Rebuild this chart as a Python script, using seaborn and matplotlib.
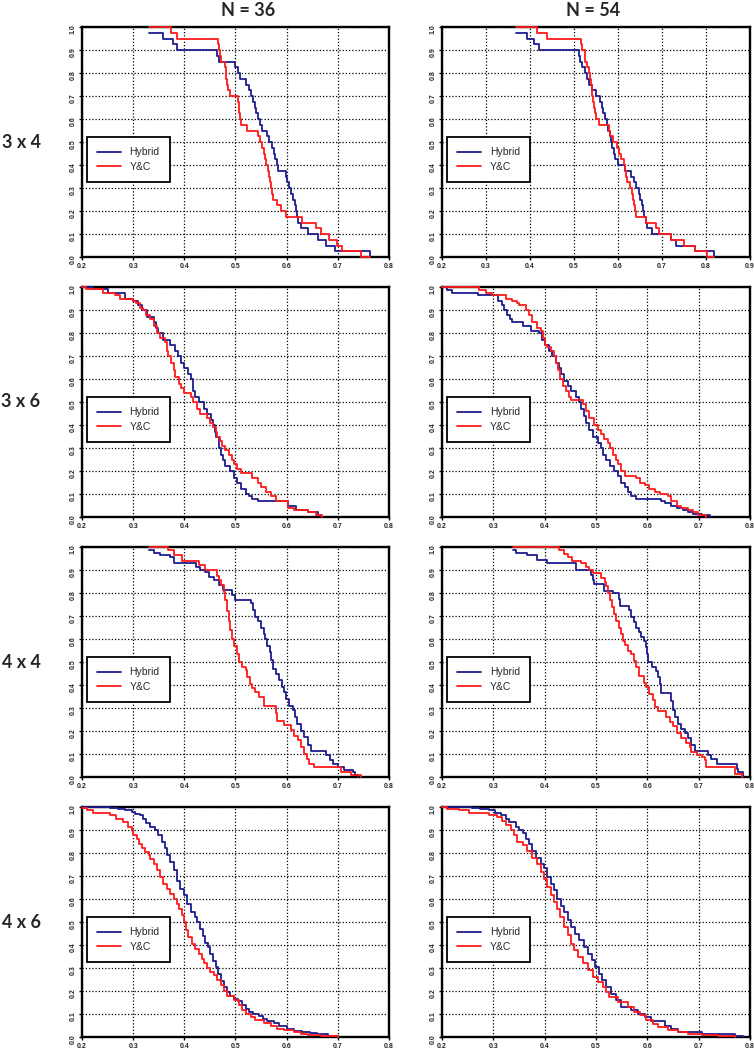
import numpy as np
import pandas as pd
import matplotlib
matplotlib.use("Agg")
import matplotlib.pyplot as plt
import seaborn as sns

# survival curves: x = knot position, s = fraction remaining after it
# 3 x 4 (40 runs each, steps of 1/40)
hyb_34_s = [0.975, 0.95, 0.925, 0.9, 0.875, 0.85, 0.825, 0.8, 0.775, 0.75,
            0.725, 0.7, 0.675, 0.65, 0.625, 0.6, 0.575, 0.55, 0.525, 0.5,
            0.475, 0.45, 0.425, 0.4, 0.375, 0.35, 0.325, 0.3, 0.275, 0.25,
            0.225, 0.2, 0.175, 0.15, 0.125, 0.1, 0.075, 0.05, 0.025, 0.0]
yc_34_s = [1.0, 0.975, 0.95, 0.925, 0.9, 0.875, 0.85, 0.825, 0.8, 0.775, 0.75,
           0.725, 0.7, 0.675, 0.65, 0.625, 0.6, 0.575, 0.55, 0.525, 0.5,
           0.475, 0.45, 0.425, 0.4, 0.375, 0.35, 0.325, 0.3, 0.275, 0.25,
           0.225, 0.2, 0.175, 0.15, 0.125, 0.1, 0.075, 0.05, 0.025, 0.0, 0.0]

hyb_34_n36_x = [0.33, 0.358, 0.378, 0.386, 0.463, 0.467, 0.500, 0.505, 0.508, 0.520,
                0.526, 0.530, 0.534, 0.538, 0.541, 0.544, 0.548, 0.552, 0.562, 0.566,
                0.572, 0.576, 0.578, 0.582, 0.584, 0.598, 0.600, 0.604, 0.608, 0.613,
                0.616, 0.618, 0.620, 0.623, 0.628, 0.642, 0.662, 0.676, 0.694, 0.762]
yc_34_n36_x = [0.33, 0.373, 0.386, 0.466, 0.468, 0.470, 0.472, 0.479, 0.481, 0.482, 0.484,
               0.486, 0.489, 0.504, 0.506, 0.507, 0.508, 0.510, 0.523, 0.544, 0.548,
               0.552, 0.555, 0.557, 0.560, 0.563, 0.565, 0.567, 0.569, 0.571, 0.573,
               0.582, 0.589, 0.598, 0.630, 0.657, 0.667, 0.683, 0.698, 0.708, 0.745, 0.762]
hyb_34_n54_x = [0.369, 0.393, 0.41, 0.42, 0.511, 0.513, 0.519, 0.524, 0.529, 0.535,
                0.54, 0.551, 0.559, 0.563, 0.567, 0.571, 0.575, 0.578, 0.581, 0.584,
                0.587, 0.59, 0.593, 0.6, 0.617, 0.63, 0.636, 0.64, 0.648, 0.65,
                0.654, 0.656, 0.659, 0.664, 0.667, 0.678, 0.72, 0.731, 0.776, 0.818]
yc_34_n54_x = [0.369, 0.416, 0.439, 0.515, 0.518, 0.524, 0.526, 0.53, 0.534, 0.536, 0.539,
               0.541, 0.542, 0.544, 0.545, 0.547, 0.549, 0.557, 0.579, 0.582, 0.589,
               0.598, 0.602, 0.607, 0.614, 0.616, 0.618, 0.62, 0.627, 0.632, 0.635,
               0.637, 0.639, 0.641, 0.664, 0.687, 0.694, 0.72, 0.75, 0.776, 0.803, 0.818]

# 3 x 6
hyb_36_n36_x = [0.2, 0.222, 0.251, 0.284, 0.3, 0.31, 0.317, 0.328, 0.34, 0.345,
                0.349, 0.359, 0.372, 0.382, 0.387, 0.393, 0.399, 0.408, 0.413, 0.417,
                0.421, 0.428, 0.438, 0.444, 0.452, 0.456, 0.46, 0.462, 0.467, 0.471,
                0.476, 0.48, 0.49, 0.497, 0.502, 0.51, 0.52, 0.526, 0.533, 0.543,
                0.602, 0.618, 0.641, 0.661, 0.667]
hyb_36_n36_s = [1.0, 0.99, 0.975, 0.95, 0.94, 0.92, 0.9, 0.87, 0.85, 0.82,
                0.8, 0.77, 0.75, 0.72, 0.7, 0.67, 0.65, 0.62, 0.6, 0.55,
                0.52, 0.5, 0.47, 0.45, 0.42, 0.4, 0.37, 0.35, 0.3, 0.27,
                0.25, 0.22, 0.2, 0.17, 0.15, 0.12, 0.1, 0.09, 0.08, 0.07,
                0.05, 0.03, 0.02, 0.01, 0.0]
yc_36_n36_x = [0.2, 0.2085, 0.241, 0.264, 0.274, 0.3, 0.305, 0.313, 0.319, 0.326,
               0.333, 0.341, 0.347, 0.353, 0.3625, 0.367, 0.369, 0.374, 0.379, 0.382,
               0.389, 0.393, 0.4, 0.414, 0.417, 0.425, 0.431, 0.444, 0.451, 0.456,
               0.461, 0.464, 0.469, 0.474, 0.48, 0.487, 0.494, 0.498, 0.503, 0.511,
               0.533, 0.543, 0.549, 0.559, 0.57, 0.579, 0.602, 0.615, 0.641, 0.657, 0.67]
yc_36_n36_s = [1.0, 0.99, 0.975, 0.965, 0.95, 0.94, 0.93, 0.91, 0.9, 0.88,
               0.86, 0.83, 0.8, 0.78, 0.76, 0.72, 0.7, 0.67, 0.64, 0.61,
               0.58, 0.56, 0.54, 0.52, 0.5, 0.47, 0.45, 0.43, 0.41, 0.39,
               0.37, 0.35, 0.33, 0.31, 0.29, 0.27, 0.25, 0.23, 0.21, 0.19,
               0.17, 0.15, 0.13, 0.11, 0.09, 0.07, 0.04, 0.03, 0.02, 0.01, 0.0]
hyb_36_n54_x = [0.2, 0.21, 0.22, 0.27, 0.31, 0.316, 0.321, 0.327, 0.332, 0.337,
                0.357, 0.373, 0.389, 0.394, 0.4, 0.409, 0.415, 0.422, 0.428, 0.432,
                0.437, 0.445, 0.451, 0.461, 0.467, 0.471, 0.476, 0.48, 0.487, 0.494,
                0.503, 0.509, 0.513, 0.52, 0.528, 0.536, 0.542, 0.549, 0.556, 0.562,
                0.569, 0.578, 0.627, 0.634, 0.647, 0.657, 0.67, 0.679, 0.689, 0.706, 0.722]
hyb_36_n54_s = [1.0, 0.985, 0.975, 0.965, 0.94, 0.92, 0.9, 0.88, 0.86, 0.85,
                0.83, 0.81, 0.8, 0.77, 0.75, 0.72, 0.7, 0.67, 0.65, 0.62,
                0.59, 0.57, 0.55, 0.52, 0.5, 0.47, 0.44, 0.41, 0.38, 0.35,
                0.32, 0.3, 0.27, 0.25, 0.22, 0.2, 0.18, 0.15, 0.13, 0.11,
                0.09, 0.08, 0.07, 0.06, 0.05, 0.04, 0.03, 0.02, 0.015, 0.01, 0.0]
yc_36_n54_x = [0.2, 0.272, 0.285, 0.298, 0.324, 0.337, 0.347, 0.35, 0.363, 0.37,
               0.376, 0.386, 0.392, 0.396, 0.4, 0.405, 0.413, 0.419, 0.422, 0.426,
               0.43, 0.435, 0.441, 0.448, 0.451, 0.474, 0.48, 0.487, 0.496, 0.503,
               0.51, 0.516, 0.523, 0.528, 0.533, 0.539, 0.542, 0.549, 0.556, 0.578,
               0.585, 0.595, 0.604, 0.614, 0.624, 0.64, 0.647, 0.657, 0.666, 0.679,
               0.689, 0.699, 0.715]
yc_36_n54_s = [1.0, 0.985, 0.975, 0.965, 0.95, 0.94, 0.93, 0.92, 0.9, 0.88,
               0.85, 0.82, 0.81, 0.78, 0.75, 0.74, 0.72, 0.7, 0.67, 0.64,
               0.6, 0.57, 0.55, 0.52, 0.51, 0.49, 0.46, 0.43, 0.4, 0.38,
               0.36, 0.34, 0.32, 0.3, 0.27, 0.25, 0.23, 0.2, 0.18, 0.17,
               0.15, 0.14, 0.12, 0.11, 0.1, 0.09, 0.07, 0.05, 0.04, 0.03,
               0.02, 0.01, 0.0]

# 4 x 4
hyb_44_n36_x = [0.33, 0.34, 0.353, 0.372, 0.379, 0.423, 0.431, 0.441, 0.448, 0.458,
                0.467, 0.476, 0.494, 0.5, 0.53, 0.535, 0.539, 0.544, 0.549, 0.555,
                0.557, 0.561, 0.568, 0.57, 0.574, 0.579, 0.585, 0.59, 0.595, 0.598,
                0.605, 0.612, 0.616, 0.621, 0.628, 0.634, 0.641, 0.648, 0.677, 0.684,
                0.69, 0.7, 0.713, 0.73, 0.733, 0.739]
hyb_44_n36_s = [0.985, 0.975, 0.965, 0.955, 0.93, 0.915, 0.9, 0.89, 0.87, 0.855,
                0.835, 0.815, 0.79, 0.77, 0.755, 0.725, 0.695, 0.68, 0.65, 0.623,
                0.6, 0.57, 0.545, 0.51, 0.47, 0.45, 0.42, 0.39, 0.37, 0.34,
                0.31, 0.29, 0.26, 0.23, 0.2, 0.175, 0.14, 0.115, 0.095, 0.075,
                0.058, 0.043, 0.03, 0.02, 0.007, 0.0]
yc_44_n36_x = [0.33, 0.369, 0.379, 0.395, 0.428, 0.441, 0.464, 0.467, 0.471, 0.477,
               0.48, 0.484, 0.487, 0.49, 0.494, 0.498, 0.502, 0.507, 0.513, 0.52,
               0.523, 0.528, 0.533, 0.539, 0.546, 0.556, 0.579, 0.582, 0.594, 0.608,
               0.615, 0.623, 0.628, 0.634, 0.64, 0.644, 0.654, 0.707, 0.726, 0.745]
yc_44_n36_s = [1.0, 0.985, 0.965, 0.94, 0.92, 0.9, 0.875, 0.855, 0.835, 0.805,
               0.77, 0.72, 0.68, 0.64, 0.6, 0.57, 0.535, 0.5, 0.48, 0.465,
               0.435, 0.405, 0.385, 0.37, 0.35, 0.31, 0.28, 0.245, 0.225, 0.205,
               0.18, 0.16, 0.13, 0.1, 0.08, 0.058, 0.043, 0.022, 0.01, 0.0]
hyb_44_n54_x = [0.339, 0.344, 0.366, 0.386, 0.405, 0.461, 0.49, 0.494, 0.497, 0.516,
                0.533, 0.544, 0.546, 0.565, 0.569, 0.575, 0.578, 0.583, 0.588, 0.593,
                0.598, 0.6, 0.602, 0.609, 0.617, 0.621, 0.624, 0.627, 0.647, 0.65,
                0.653, 0.66, 0.666, 0.673, 0.679, 0.686, 0.692, 0.719, 0.725, 0.735,
                0.774, 0.777, 0.787]
hyb_44_n54_s = [0.985, 0.975, 0.965, 0.945, 0.93, 0.9, 0.88, 0.855, 0.84, 0.81,
                0.8, 0.775, 0.745, 0.725, 0.695, 0.675, 0.65, 0.63, 0.61, 0.59,
                0.565, 0.535, 0.5, 0.48, 0.46, 0.435, 0.405, 0.365, 0.33, 0.29,
                0.26, 0.23, 0.21, 0.19, 0.17, 0.14, 0.115, 0.095, 0.08, 0.058,
                0.036, 0.022, 0.0]
yc_44_n54_x = [0.339, 0.428, 0.438, 0.445, 0.454, 0.471, 0.48, 0.487, 0.494, 0.51,
               0.518, 0.52, 0.523, 0.528, 0.531, 0.536, 0.539, 0.544, 0.548, 0.552,
               0.557, 0.562, 0.569, 0.575, 0.578, 0.583, 0.593, 0.598, 0.604, 0.611,
               0.614, 0.621, 0.637, 0.644, 0.65, 0.657, 0.666, 0.676, 0.683, 0.686,
               0.696, 0.706, 0.712, 0.715, 0.771, 0.784]
yc_44_n54_s = [1.0, 0.985, 0.97, 0.955, 0.94, 0.93, 0.915, 0.9, 0.885, 0.867,
               0.85, 0.83, 0.8, 0.77, 0.74, 0.71, 0.68, 0.65, 0.62, 0.59,
               0.575, 0.55, 0.535, 0.505, 0.48, 0.44, 0.41, 0.39, 0.36, 0.335,
               0.305, 0.285, 0.26, 0.24, 0.22, 0.19, 0.17, 0.15, 0.13, 0.11,
               0.095, 0.087, 0.072, 0.043, 0.015, 0.0]

# 4 x 6
hyb_46_n36_x = [0.2, 0.254, 0.271, 0.284, 0.297, 0.304, 0.313, 0.32, 0.326, 0.333,
                0.343, 0.349, 0.356, 0.363, 0.367, 0.372, 0.379, 0.385, 0.392, 0.4,
                0.406, 0.413, 0.42, 0.425, 0.431, 0.437, 0.441, 0.446, 0.451, 0.456,
                0.461, 0.465, 0.471, 0.477, 0.484, 0.49, 0.497, 0.505, 0.512, 0.52,
                0.527, 0.535, 0.545, 0.553, 0.562, 0.575, 0.585, 0.6, 0.615, 0.63,
                0.645, 0.66, 0.68, 0.7]
hyb_46_n36_s = [1.0, 0.997, 0.993, 0.985, 0.978, 0.97, 0.965, 0.95, 0.93, 0.913,
                0.9, 0.877, 0.848, 0.82, 0.79, 0.76, 0.725, 0.68, 0.645, 0.616,
                0.58, 0.545, 0.52, 0.5, 0.47, 0.44, 0.41, 0.39, 0.36, 0.33,
                0.305, 0.275, 0.245, 0.217, 0.195, 0.18, 0.167, 0.155, 0.14, 0.123,
                0.11, 0.1, 0.09, 0.08, 0.07, 0.06, 0.05, 0.035, 0.028, 0.022,
                0.018, 0.012, 0.006, 0.0]
yc_46_n36_x = [0.2, 0.209, 0.222, 0.254, 0.267, 0.281, 0.29, 0.297, 0.3, 0.307,
               0.312, 0.317, 0.323, 0.33, 0.333, 0.34, 0.346, 0.353, 0.359, 0.366,
               0.372, 0.379, 0.385, 0.389, 0.395, 0.4, 0.404, 0.408, 0.415, 0.421,
               0.428, 0.435, 0.439, 0.444, 0.451, 0.458, 0.464, 0.471, 0.477, 0.484,
               0.497, 0.507, 0.513, 0.52, 0.53, 0.539, 0.556, 0.569, 0.582, 0.595,
               0.615, 0.628, 0.641, 0.667, 0.7]
yc_46_n36_s = [0.995, 0.985, 0.975, 0.965, 0.95, 0.935, 0.913, 0.9, 0.88, 0.862,
               0.84, 0.82, 0.805, 0.79, 0.775, 0.754, 0.725, 0.695, 0.667, 0.645,
               0.623, 0.6, 0.58, 0.558, 0.53, 0.5, 0.464, 0.435, 0.406, 0.384,
               0.362, 0.34, 0.32, 0.3, 0.283, 0.268, 0.246, 0.225, 0.2, 0.18,
               0.16, 0.138, 0.116, 0.1, 0.087, 0.072, 0.06, 0.05, 0.036, 0.03,
               0.022, 0.014, 0.007, 0.003, 0.0]
hyb_46_n54_x = [0.2, 0.259, 0.275, 0.291, 0.304, 0.314, 0.324, 0.33, 0.344, 0.35,
                0.357, 0.363, 0.37, 0.376, 0.383, 0.392, 0.399, 0.405, 0.412, 0.419,
                0.425, 0.432, 0.438, 0.445, 0.451, 0.459, 0.467, 0.476, 0.484, 0.492,
                0.498, 0.505, 0.511, 0.52, 0.529, 0.539, 0.549, 0.569, 0.582, 0.595,
                0.608, 0.634, 0.647, 0.66, 0.706, 0.771, 0.787]
hyb_46_n54_s = [1.0, 0.996, 0.99, 0.985, 0.975, 0.965, 0.95, 0.935, 0.913, 0.9,
                0.885, 0.862, 0.84, 0.81, 0.78, 0.754, 0.733, 0.695, 0.667, 0.638,
                0.6, 0.57, 0.543, 0.507, 0.478, 0.45, 0.42, 0.39, 0.362, 0.333,
                0.305, 0.275, 0.246, 0.217, 0.188, 0.16, 0.13, 0.116, 0.1, 0.087,
                0.07, 0.05, 0.036, 0.022, 0.012, 0.003, 0.0]
yc_46_n54_x = [0.2, 0.21, 0.233, 0.252, 0.291, 0.308, 0.317, 0.324, 0.334, 0.34,
               0.347, 0.357, 0.366, 0.376, 0.386, 0.392, 0.399, 0.405, 0.412, 0.419,
               0.425, 0.43, 0.438, 0.445, 0.451, 0.458, 0.464, 0.474, 0.484, 0.494,
               0.503, 0.513, 0.52, 0.526, 0.542, 0.562, 0.575, 0.585, 0.598, 0.611,
               0.621, 0.64, 0.66, 0.679, 0.706, 0.738, 0.771]
yc_46_n54_s = [1.0, 0.993, 0.985, 0.975, 0.967, 0.957, 0.94, 0.92, 0.9, 0.877,
               0.85, 0.835, 0.81, 0.78, 0.754, 0.717, 0.688, 0.652, 0.616, 0.587,
               0.558, 0.522, 0.478, 0.442, 0.406, 0.377, 0.348, 0.32, 0.29, 0.26,
               0.24, 0.217, 0.196, 0.174, 0.152, 0.13, 0.109, 0.095, 0.075, 0.058,
               0.043, 0.029, 0.022, 0.014, 0.007, 0.003, 0.0]

row_labels = ["3 x 4", "3 x 6", "4 x 4", "4 x 6"]
col_labels = ["N = 36", "N = 54"]
methods = ["Hybrid", "Y&C"]
colors = {"Hybrid": "#1c1c8e", "Y&C": "#ff1a1a"}

curves = {
    (0, 0): (hyb_34_n36_x, hyb_34_s, yc_34_n36_x, yc_34_s),
    (0, 1): (hyb_34_n54_x, hyb_34_s, yc_34_n54_x, yc_34_s),
    (1, 0): (hyb_36_n36_x, hyb_36_n36_s, yc_36_n36_x, yc_36_n36_s),
    (1, 1): (hyb_36_n54_x, hyb_36_n54_s, yc_36_n54_x, yc_36_n54_s),
    (2, 0): (hyb_44_n36_x, hyb_44_n36_s, yc_44_n36_x, yc_44_n36_s),
    (2, 1): (hyb_44_n54_x, hyb_44_n54_s, yc_44_n54_x, yc_44_n54_s),
    (3, 0): (hyb_46_n36_x, hyb_46_n36_s, yc_46_n36_x, yc_46_n36_s),
    (3, 1): (hyb_46_n54_x, hyb_46_n54_s, yc_46_n54_x, yc_46_n54_s),
}

sns.set_theme(style="ticks")
plt.rcParams["font.family"] = ["Liberation Sans", "DejaVu Sans"]

W, H = 754, 1050
fig = plt.figure(figsize=(W / 100, H / 100), dpi=100)

col_left = [82, 442]
col_width = [307, 308]

for (i, j), (hx, hs, yx, ys) in curves.items():
    ax = fig.add_axes([col_left[j] / W, 1 - (257 + 260 * i) / H, col_width[j] / W, 230 / H])
    df = pd.concat([
        pd.DataFrame({"x": hx, "s": hs, "method": "Hybrid"}),
        pd.DataFrame({"x": yx, "s": ys, "method": "Y&C"}),
    ])
    sns.lineplot(data=df, x="x", y="s", hue="method", hue_order=methods,
                 palette=colors, estimator=None, sort=False,
                 drawstyle="steps-post", linewidth=1.3, legend=False,
                 zorder=3, clip_on=False, ax=ax)

    xmax = 0.9 if (i, j) == (0, 1) else 0.8
    xt = [0.2, 0.3, 0.4, 0.5, 0.6, 0.7, 0.8, 0.9] if xmax > 0.85 else [0.2, 0.3, 0.4, 0.5, 0.6, 0.7, 0.8]
    yt = [0.0, 0.1, 0.2, 0.3, 0.4, 0.5, 0.6, 0.7, 0.8, 0.9, 1.0]
    ax.set_xlim(0.2, xmax)
    ax.set_ylim(0, 1)
    ax.set_xticks(xt, labels=[f"{v:.1f}" for v in xt], fontsize=5, fontweight="bold")
    ax.set_yticks(yt, labels=[f"{v:.1f}" for v in yt], fontsize=5, fontweight="bold")
    ax.tick_params(axis="y", labelrotation=90)
    ax.tick_params(direction="out", length=2.5, width=1, color="black", pad=1.5)
    ax.set_xlabel("")
    ax.set_ylabel("")
    ax.set_axisbelow(True)
    ax.grid(True, color="black", linestyle=(0, (1, 1.6)), linewidth=0.9)
    for sp in ax.spines.values():
        sp.set_color("black")
        sp.set_linewidth(1.7)

    leg = ax.legend(ax.lines[:2], methods, loc="upper left",
                    bbox_to_anchor=(0.016, 0.522), borderaxespad=0,
                    frameon=True, fancybox=False, framealpha=1,
                    edgecolor="black", fontsize=7.5, handlelength=2.3,
                    handletextpad=0.8, borderpad=1.0, labelspacing=0.45)
    leg.get_frame().set_linewidth(1.3)

# column titles and row labels
title_x = [248, 593]
for j, lab in enumerate(col_labels):
    fig.text(title_x[j] / W, 1 - 10 / H, lab, ha="center", va="center",
             fontsize=13, fontweight="bold", family=["Lato", "DejaVu Sans"])
for i, lab in enumerate(row_labels):
    fig.text(21 / W, 1 - (142 + 260 * i) / H, lab, ha="center", va="center",
             fontsize=13, fontweight="bold", family=["Lato", "DejaVu Sans"])

fig.savefig("out.png", dpi=100)
